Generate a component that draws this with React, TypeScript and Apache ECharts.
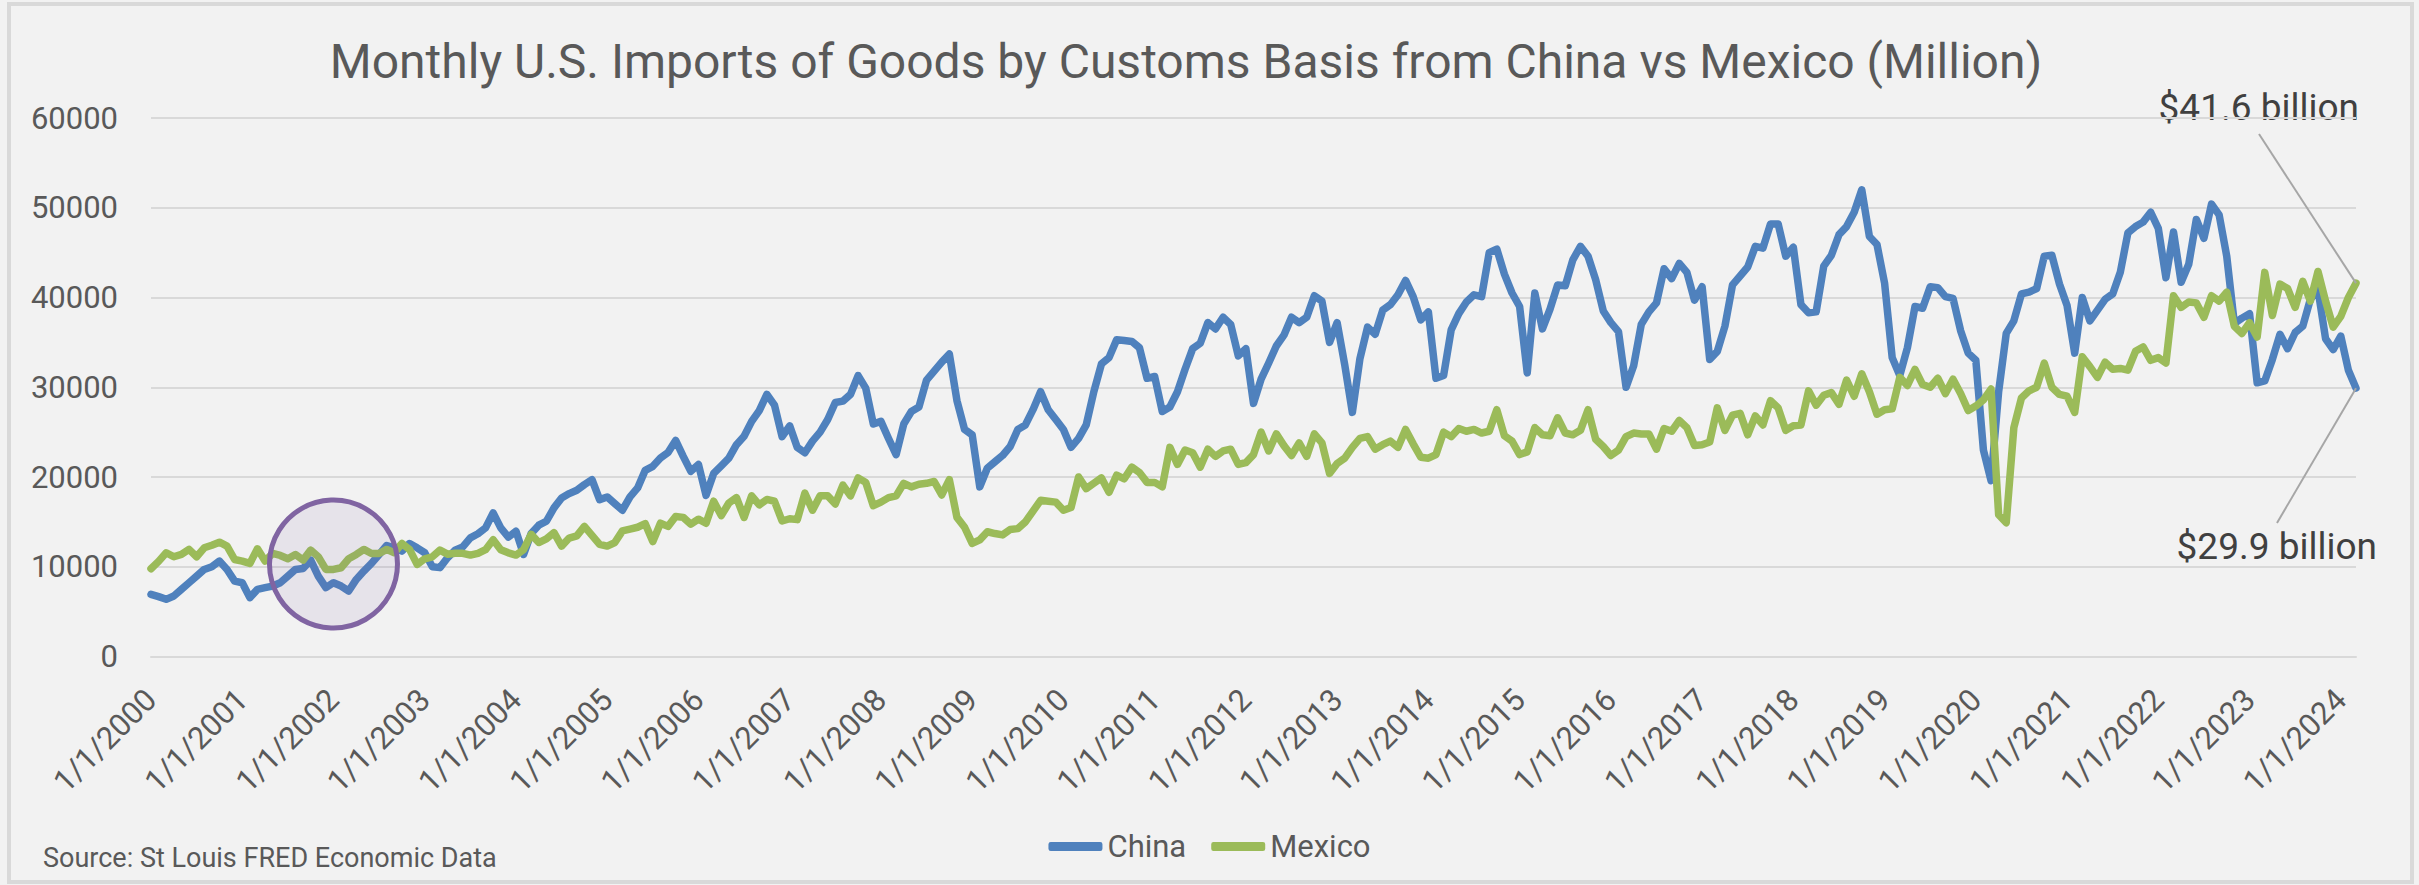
import React, { useEffect, useRef } from "react";
import * as echarts from "echarts";

// Monthly U.S. imports of goods (customs basis), million USD, Jan 2000 – Mar 2024
const china: number[] = [
  6930, 6670, 6370, 6740, 7480, 8220, 8960, 9700, 10000, 10630, 9700, 8400,
  8220, 6560, 7480, 7670, 7850, 8220, 8960, 9700, 9810, 10740, 8960, 7670,
  8220, 7850, 7300, 8590, 9520, 10370, 11370, 12370, 12110, 11740, 12590, 12110,
  11560, 10000, 9900, 11000, 11850, 12220, 13220, 13670, 14330, 16000, 14330, 13300,
  13960, 11370, 13700, 14630, 15070, 16560, 17670, 18150, 18520, 19150, 19700, 17480,
  17780, 17040, 16300, 17780, 18780, 20740, 21190, 22110, 22740, 24070, 22300, 20630,
  21400, 17950, 20400, 21250, 22100, 23600, 24550, 26200, 27400, 29200, 28000, 24500,
  25700, 23300, 22700, 24000, 25000, 26400, 28300, 28450, 29200, 31300, 29900, 25900,
  26200, 24300, 22500, 25900, 27300, 27800, 30800, 31800, 32800, 33700, 28500, 25300,
  24700, 18900, 21000, 21700, 22400, 23400, 25300, 25800, 27500, 29500, 27500, 26400,
  25300, 23300, 24300, 25800, 29500, 32600, 33300, 35300, 35200, 35100, 34400, 31000,
  31200, 27300, 27800, 29500, 32000, 34300, 34900, 37200, 36500, 37800, 37000, 33500,
  34300, 28200, 30900, 32700, 34600, 35800, 37800, 37200, 37800, 40200, 39600, 35000,
  37200, 32500, 27200, 33200, 36700, 35900, 38600, 39200, 40300, 41900, 40100, 37500,
  38400, 31000, 31300, 36400, 38200, 39500, 40300, 40100, 45000, 45400, 42600, 40500,
  39000, 31600, 40500, 36500, 38700, 41400, 41300, 44200, 45700, 44600, 42000, 38500,
  37200, 36200, 30000, 32400, 37000, 38400, 39400, 43200, 42100, 43800, 42800, 39700,
  41200, 33100, 34000, 36800, 41400, 42400, 43400, 45700, 45500, 48200, 48200, 44600,
  45600, 39200, 38300, 38400, 43500, 44700, 47000, 47900, 49500, 52000, 46800, 45900,
  41600, 33300, 31300, 34400, 39000, 38800, 41200, 41100, 40100, 39900, 36300, 33800,
  33000, 23000, 19600, 29500, 36000, 37400, 40400, 40600, 41000, 44600, 44700, 41500,
  39100, 33800, 40000, 37400, 38600, 39800, 40400, 42800, 47200, 47900, 48400, 49500,
  47700, 42200, 47300, 41700, 43700, 48700, 46600, 50400, 49200, 44600, 37100, 37700,
  38200, 30500, 30700, 33100, 35900, 34300, 36100, 36800, 39800, 40900, 35400, 34200,
  35700, 31900, 29900,
];

const mexico: number[] = [
  9780, 10600, 11560, 11110, 11370, 11930, 11110, 12110, 12400, 12740, 12300, 10810,
  10630, 10370, 12000, 10630, 11480, 11260, 10890, 11370, 10740, 11850, 11110, 9700,
  9700, 9890, 10890, 11370, 11930, 11480, 11480, 11930, 11560, 12590, 11930, 10260,
  10890, 11110, 11850, 11400, 11500, 11500, 11300, 11500, 11900, 13000, 11900, 11550,
  11300, 11900, 13600, 12700, 13100, 13800, 12300, 13200, 13450, 14500, 13500, 12500,
  12300, 12700, 14000, 14200, 14400, 14800, 12800, 14850, 14500, 15600, 15500, 14740,
  15300, 14850, 17300, 15700, 17100, 17700, 15500, 17900, 16900, 17500, 17300, 15100,
  15350, 15250, 18200, 16300, 17900, 17900, 17000, 19100, 17900, 19900, 19400, 16800,
  17200, 17700, 17900, 19300, 18900, 19200, 19300, 19500, 18000, 19700, 15500, 14400,
  12600, 13000, 13900, 13700, 13550, 14150, 14250, 15000, 16200, 17400, 17300, 17200,
  16300, 16600, 20000, 18700, 19300, 19900, 18300, 20200, 19800, 21100, 20500, 19400,
  19400, 18900, 23300, 21400, 23000, 22700, 21100, 23100, 22300, 22900, 23100, 21400,
  21600, 22500, 25000, 22900, 24800, 23500, 22400, 23800, 22300, 24800, 23800, 20400,
  21500, 22100, 23300, 24300, 24500, 23100, 23600, 24000, 23300, 25300, 23700, 22200,
  22100, 22500, 25000, 24500, 25400, 25100, 25300, 24900, 25100, 27500, 24600, 24000,
  22500, 22800, 25500, 24700, 24600, 26600, 24900, 24700, 25200, 27500, 24200, 23400,
  22400, 23000, 24500, 24900, 24800, 24800, 23100, 25400, 25100, 26300, 25500, 23500,
  23600, 23900, 27700, 25200, 26900, 27100, 24700, 26800, 25800, 28500, 27700, 25200,
  25700, 25800, 29600, 28000, 29100, 29400, 28100, 30800, 29000, 31500, 29500, 27000,
  27500, 27600, 31100, 30200, 32000, 30300, 30000, 31000, 29300, 30900, 29300, 27400,
  27900, 28600, 29800, 15800, 14900, 25500, 28800, 29600, 30000, 32700, 30000, 29200,
  29000, 27200, 33400, 32300, 31100, 32800, 32000, 32100, 31900, 34000, 34500, 33000,
  33300, 32700, 40200, 38900, 39500, 39400, 37800, 40200, 39600, 40600, 36800, 36000,
  37200, 35600, 42800, 38000, 41500, 41000, 38900, 41800, 39600, 42900, 39600, 36700,
  37900, 40000, 41600,
];

const START_YEAR = 2000;
const categories: string[] = china.map(
  (_, i) => `${(i % 12) + 1}/1/${START_YEAR + Math.floor(i / 12)}`
);

const yTicks = { min: 0, max: 60000, interval: 10000 };
const seriesNames = ["China", "Mexico"];
const colors = ["#4f81bd", "#9bbb59"];
const titleText = "Monthly U.S. Imports of Goods by Customs Basis from China vs Mexico (Million)";
const sourceText = "Source: St Louis FRED Economic Data";
const mexicoNote = "$41.6 billion";
const chinaNote = "$29.9 billion";
const circleAt = { index: 24, value: 10300 };

const FONT = "Roboto";

export default function App() {
  const ref = useRef<HTMLDivElement>(null);

  useEffect(() => {
    if (!ref.current) return;
    const chart = echarts.init(ref.current, undefined, { renderer: "svg" });
    const last = china.length - 1;

    chart.setOption({
      animation: false,
      backgroundColor: "#f2f2f2",
      textStyle: { fontFamily: FONT },
      grid: { left: 151, right: 63, top: 118, bottom: 228.5, containLabel: false },
      legend: {
        data: seriesNames,
        left: "center",
        top: 826,
        icon: "roundRect",
        itemWidth: 54,
        itemHeight: 9,
        itemGap: 25,
        textStyle: { fontSize: 31, color: "#595959", fontFamily: FONT },
      },
      xAxis: {
        type: "category",
        data: categories,
        boundaryGap: false,
        axisLine: { show: true, lineStyle: { color: "#d9d9d9", width: 2 } },
        axisTick: { show: false },
        splitLine: { show: false },
        axisLabel: {
          rotate: 45,
          interval: (index: number) => index % 12 === 0,
          fontSize: 31,
          color: "#595959",
          fontFamily: FONT,
          margin: 38,
        },
      },
      yAxis: {
        type: "value",
        min: yTicks.min,
        max: yTicks.max,
        interval: yTicks.interval,
        axisLine: { show: false },
        axisTick: { show: false },
        splitLine: { lineStyle: { color: "#d9d9d9", width: 2 } },
        axisLabel: {
          fontSize: 31,
          color: "#595959",
          fontFamily: FONT,
          margin: 33,
          formatter: (v: number) => String(v),
        },
      },
      series: [
        {
          name: seriesNames[0],
          type: "line",
          data: china,
          showSymbol: false,
          color: colors[0],
          lineStyle: { width: 7.5, color: colors[0], cap: "round", join: "round" },
          emphasis: { disabled: true },
          markPoint: {
            silent: true,
            animation: false,
            symbol: "circle",
            symbolSize: 128,
            itemStyle: {
              color: "rgba(128,100,162,0.1)",
              borderColor: "#8064a2",
              borderWidth: 5,
            },
            label: { show: false },
            data: [{ coord: [categories[circleAt.index], circleAt.value] }],
          },
          markLine: {
            silent: true,
            animation: false,
            symbol: "none",
            label: { show: false },
            lineStyle: { color: "#a6a6a6", width: 2, type: "solid" },
            emphasis: { disabled: true },
            data: [[{ coord: [categories[last], china[last]] }, { x: 2277, y: 523 }]],
          },
        },
        {
          name: seriesNames[1],
          type: "line",
          data: mexico,
          showSymbol: false,
          color: colors[1],
          lineStyle: { width: 7.5, color: colors[1], cap: "round", join: "round" },
          emphasis: { disabled: true },
          markLine: {
            silent: true,
            animation: false,
            symbol: "none",
            label: { show: false },
            lineStyle: { color: "#a6a6a6", width: 2, type: "solid" },
            emphasis: { disabled: true },
            data: [[{ coord: [categories[last], mexico[last]] }, { x: 2259, y: 134 }]],
          },
        },
      ],
      graphic: [
        {
          type: "rect",
          silent: true,
          z: -10,
          shape: { x: 9, y: 4, width: 2403, height: 878 },
          style: { fill: "none", stroke: "#d9d9d9", lineWidth: 4 },
        },
        {
          type: "text",
          x: 1186,
          y: 61,
          style: {
            text: titleText,
            fontSize: 48,
            fontFamily: FONT,
            fill: "#595959",
            align: "center",
            verticalAlign: "middle",
          },
        },
        {
          type: "text",
          x: 43,
          y: 858,
          style: {
            text: sourceText,
            fontSize: 27,
            fontFamily: FONT,
            fill: "#595959",
            align: "left",
            verticalAlign: "middle",
          },
        },
        {
          type: "text",
          x: 2359,
          y: 107,
          style: {
            text: mexicoNote,
            fontSize: 37,
            fontFamily: FONT,
            fill: "#404040",
            align: "right",
            verticalAlign: "middle",
          },
        },
        {
          type: "text",
          x: 2377,
          y: 546,
          style: {
            text: chinaNote,
            fontSize: 37,
            fontFamily: FONT,
            fill: "#404040",
            align: "right",
            verticalAlign: "middle",
          },
        },
      ],
    });

    return () => chart.dispose();
  }, []);

  return (
    <div
      ref={ref}
      style={{ position: "absolute", left: 0, top: 0, width: 2419, height: 885 }}
    />
  );
}
